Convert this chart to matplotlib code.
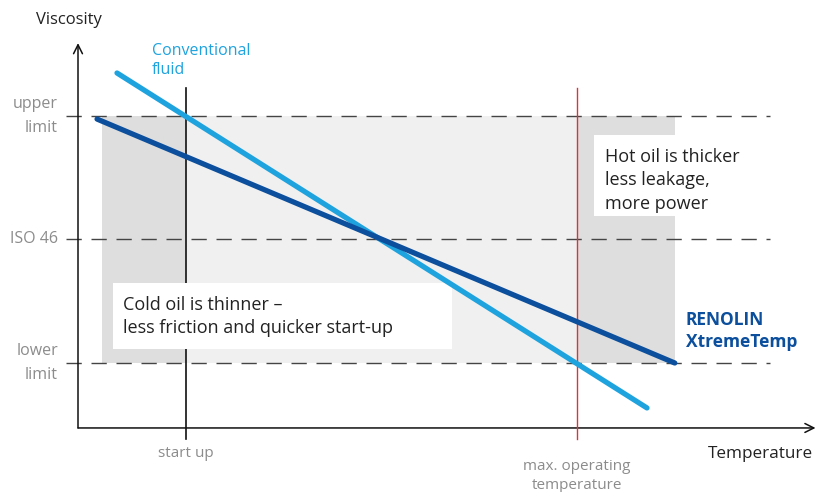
import matplotlib
matplotlib.use("Agg")
import matplotlib.pyplot as plt
from matplotlib.patches import Rectangle

plt.rcParams['font.family'] = ['Open Sans', 'DejaVu Sans']

# ---- data (abstract units: temperature t, viscosity level v) ----
level_values = [3.0, 2.0, 1.0]
level_labels = ["upper\nlimit", "ISO 46", "lower\nlimit"]
startup_t = 1.0
maxop_t = 5.0
conv_t = [0.294, 5.716]
conv_v = [3.348, 0.636]
renolin_t = [0.09, 6.0]
renolin_v = [2.975, 1.0]
band_t = [0.14, 6.0]

LIGHT = "#1ea3df"
DARK = "#0b4f9d"
RED = "#e2303a"
GRAYTXT = "#8c8c8c"

fig = plt.figure(figsize=(8.29, 4.92), dpi=100)
ax = fig.add_axes([0, 0, 1, 1])
ax.set_xlim(-0.903, 7.578)
ax.set_ylim(-0.0445, 3.939)
ax.axis('off')

# shaded band
ax.add_patch(Rectangle((band_t[0], 1.0), band_t[1] - band_t[0], 2.0,
                       facecolor="#f0f0f0", edgecolor="none", zorder=0))
ax.add_patch(Rectangle((band_t[0], 1.0), startup_t - band_t[0], 2.0,
                       facecolor="#dedede", edgecolor="none", zorder=0.1))
ax.add_patch(Rectangle((maxop_t, 1.0), band_t[1] - maxop_t, 2.0,
                       facecolor="#dedede", edgecolor="none", zorder=0.1))

# dashed levels
for v in level_values:
    ax.plot([-0.228, 6.975], [v, v], color="#444444", lw=1.0,
            dashes=(11, 7), zorder=1)

# axes arrows
ax_x0 = -0.105
ax_y0 = 0.474
ax.annotate("", xy=(7.44, ax_y0), xytext=(ax_x0, ax_y0),
            arrowprops=dict(arrowstyle="->", lw=1.1, color="#111111",
                            mutation_scale=16, shrinkA=0, shrinkB=0), zorder=2)
ax.annotate("", xy=(ax_x0, 3.59), xytext=(ax_x0, ax_y0),
            arrowprops=dict(arrowstyle="->", lw=1.1, color="#111111",
                            mutation_scale=16, shrinkA=0, shrinkB=0), zorder=2)

# vertical markers
ax.plot([startup_t, startup_t], [0.385, 3.227], color="#111111", lw=1.2, zorder=2)
ax.plot([maxop_t, maxop_t], [0.385, 3.227], color=RED, lw=1.0, zorder=2)

# text boxes
ax.add_patch(Rectangle((0.248, 1.113), 3.47, 0.535, facecolor="white",
                       edgecolor="none", zorder=3))
ax.text(0.36, 1.375, "Cold oil is thinner –\nless friction and quicker start-up",
        fontsize=13, color="#222222", va="center", ha="left",
        linespacing=1.4, zorder=4)
ax.add_patch(Rectangle((5.17, 2.19), 2.0, 0.655, facecolor="white",
                       edgecolor="none", zorder=3))
ax.text(5.29, 2.48, "Hot oil is thicker\nless leakage,\nmore power",
        fontsize=13, color="#222222", va="center", ha="left",
        linespacing=1.4, zorder=4)

# curves
ax.plot(conv_t, conv_v, color=LIGHT, lw=3.8, solid_capstyle="round", zorder=5)
ax.plot(renolin_t, renolin_v, color=DARK, lw=3.8, solid_capstyle="round", zorder=5)

# labels
ax.text(-0.53, 3.78, "Viscosity", fontsize=12, color="#222222",
        ha="left", va="center")
ax.text(0.65, 3.45, "Conventional\nfluid", fontsize=11.5, color=LIGHT,
        ha="left", va="center", linespacing=1.3)
for v, lab in zip(level_values, level_labels):
    ax.text(-0.31, v, lab, fontsize=11.5, color=GRAYTXT, ha="right",
            va="center", linespacing=1.6)
ax.text(startup_t, 0.265, "start up", fontsize=11, color=GRAYTXT,
        ha="center", va="center")
ax.text(maxop_t, 0.085, "max. operating\ntemperature", fontsize=11,
        color=GRAYTXT, ha="center", va="center", linespacing=1.38)
ax.text(7.41, 0.26, "Temperature", fontsize=12.3, color="#222222",
        ha="right", va="center")
ax.text(6.11, 1.26, "RENOLIN\nXtremeTemp", fontsize=12.5, color=DARK,
        fontweight="bold", ha="left", va="center", linespacing=1.25)

fig.savefig("out.png", dpi=100)
